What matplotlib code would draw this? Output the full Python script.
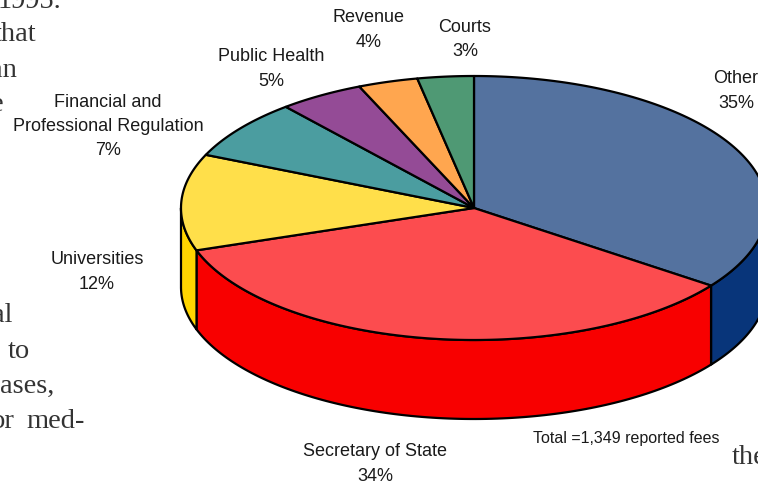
import numpy as np
import matplotlib
matplotlib.use("Agg")
import matplotlib.pyplot as plt
from matplotlib.patches import Polygon

# wedge shares, clockwise from 12 o'clock
names = ["Other", "Secretary of State", "Universities",
         "Financial and\nProfessional Regulation", "Public Health", "Revenue", "Courts"]
shares = [35.0, 34.8, 11.8, 7.3, 4.7, 3.3, 3.1]
pct_labels = ["35%", "34%", "12%", "7%", "5%", "4%", "3%"]
top_colors = ["#54729F", "#FC4C4F", "#FFDF4A", "#4B9DA0", "#944B96", "#FFA64F", "#4F9974"]
side_colors = ["#08357A", "#F80000", "#FFD500", "#4B9DA0", "#944B96", "#FFA64F", "#4F9974"]
total_note = "Total =1,349 reported fees"

# pixel places of the labels (centre)
label_x = [736, 375, 97, 108, 271, 369, 465]
label_y = [91, 464, 272, 126.5, 69, 30, 39.5]

# pieces of the page text around the chart: text, right edge, baseline
page_text = [("1995.", 61, 8), ("that", 36, 41), ("an", 17, 77), ("e", 3, 111),
             ("al", 12, 322), ("to", 30, 358), ("ases,", 54, 393), ("or", 15, 428), ("med-", 85, 428)]

cx, cy = 474, 208
rx, ry = 293, 132
depth = 79


def ell(deg):
    a = np.radians(deg)
    return cx + rx * np.sin(a), cy - ry * np.cos(a)


fig = plt.figure(figsize=(7.58, 4.82), dpi=100)
ax = fig.add_axes([0, 0, 1, 1])
ax.set_xlim(0, 758)
ax.set_ylim(482, 0)
ax.axis("off")

edges = np.concatenate([[0], np.cumsum(shares)]) / np.sum(shares) * 360

# side walls, only the front half of the rim (90 to 270 deg) shows
for i in range(len(shares)):
    a0, a1 = max(edges[i], 90), min(edges[i + 1], 270)
    if a1 <= a0:
        continue
    t = np.linspace(a0, a1, 120)
    x, y = ell(t)
    pts = np.concatenate([np.column_stack([x, y]),
                          np.column_stack([x[::-1], y[::-1] + depth])])
    ax.add_patch(Polygon(pts, closed=True, fc=side_colors[i], ec="black", lw=1.6, joinstyle="round", zorder=2))

# top face
for i in range(len(shares)):
    t = np.linspace(edges[i], edges[i + 1], 120)
    x, y = ell(t)
    pts = np.concatenate([[[cx, cy]], np.column_stack([x, y])])
    ax.add_patch(Polygon(pts, closed=True, fc=top_colors[i], ec="black", lw=1.6, joinstyle="round", zorder=3))

for i in range(len(names)):
    ax.text(label_x[i], label_y[i], names[i] + "\n" + pct_labels[i], ha="center", va="center",
            family="Liberation Sans", fontsize=13, color="#1a1a1a", linespacing=1.55)

ax.text(626, 439, total_note, ha="center", va="center", family="Liberation Sans",
        fontsize=11.5, color="#1a1a1a")

for s, xr, yb in page_text:
    ax.text(xr, yb, s, ha="right", va="baseline", family="Liberation Serif", fontsize=20.5, color="#333333")
ax.text(732, 464, "the", ha="left", va="baseline", family="Liberation Serif", fontsize=20.5, color="#333333")

fig.savefig("out.png", dpi=100)
